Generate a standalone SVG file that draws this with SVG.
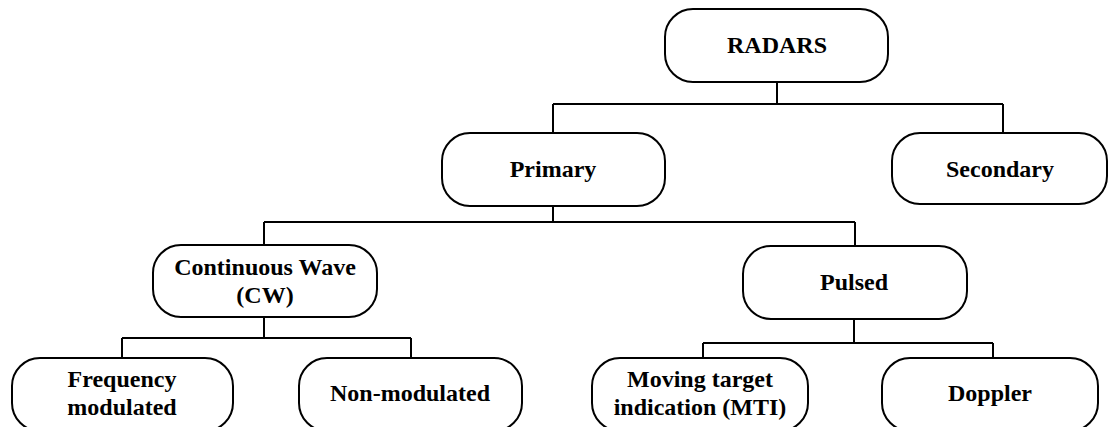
<svg xmlns="http://www.w3.org/2000/svg" width="1109" height="427" viewBox="0 0 1109 427">
  <style>
    .box { fill: #ffffff; stroke: #000000; stroke-width: 2; }
    .wire { fill: none; stroke: #000000; stroke-width: 2; }
    .label { font-family: "Liberation Serif", "Times New Roman", serif; font-weight: bold; font-size: 24px; fill: #000000; text-anchor: middle; }
  </style>
  <rect width="1109" height="427" fill="#ffffff"/>

  <!-- tree connectors -->
  <g id="connectors">
    <path class="wire" d="M777 82 V104 M553 104 H1003 M553 104 V133 M1003 104 V133"/>
    <path class="wire" d="M553 206 V222 M264 222 H855 M264 222 V245 M855 222 V246"/>
    <path class="wire" d="M264 317 V338 M122 338 H411 M122 338 V358 M411 338 V358"/>
    <path class="wire" d="M854 319 V343 M703 343 H993 M703 343 V358 M993 343 V360"/>
  </g>

  <g id="radars">
    <rect class="box" x="665" y="9" width="223" height="73" rx="28"/>
    <text class="label" x="777" y="53">RADARS</text>
  </g>

  <g id="primary">
    <rect class="box" x="442" y="133" width="223" height="73" rx="28"/>
    <text class="label" x="553" y="177">Primary</text>
  </g>

  <g id="secondary">
    <rect class="box" x="892" y="133" width="215" height="71" rx="28"/>
    <text class="label" x="1000" y="177">Secondary</text>
  </g>

  <g id="continuous-wave">
    <rect class="box" x="153" y="245" width="224" height="72" rx="28"/>
    <text class="label" x="265" y="275">Continuous Wave</text>
    <text class="label" x="265" y="303">(CW)</text>
  </g>

  <g id="pulsed">
    <rect class="box" x="743" y="246" width="224" height="73" rx="28"/>
    <text class="label" x="854" y="290">Pulsed</text>
  </g>

  <g id="frequency-modulated">
    <rect class="box" x="12" y="358" width="221" height="73" rx="28"/>
    <text class="label" x="122" y="387">Frequency</text>
    <text class="label" x="122" y="415">modulated</text>
  </g>

  <g id="non-modulated">
    <rect class="box" x="299" y="358" width="223" height="73" rx="28"/>
    <text class="label" x="410" y="401">Non-modulated</text>
  </g>

  <g id="mti">
    <rect class="box" x="592" y="358" width="216" height="73" rx="28"/>
    <text class="label" x="700" y="387">Moving target</text>
    <text class="label" x="700" y="415">indication (MTI)</text>
  </g>

  <g id="doppler">
    <rect class="box" x="882" y="358" width="216" height="73" rx="28"/>
    <text class="label" x="990" y="401">Doppler</text>
  </g>
</svg>
